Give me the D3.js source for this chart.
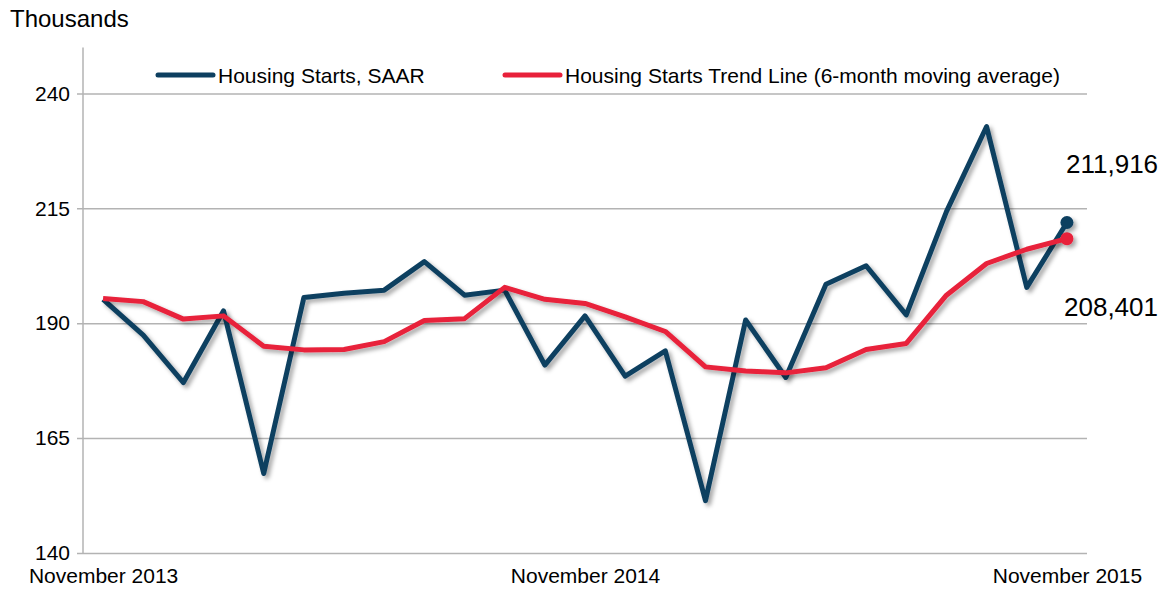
<!DOCTYPE html>
<html>
<head>
<meta charset="utf-8">
<script src="https://cdn.jsdelivr.net/npm/d3@7"></script>
<style>
  body { margin: 0; background: #fff; }
  svg { font-family: "Liberation Sans", Arial, sans-serif; }
</style>
</head>
<body>
<script>
// months from Nov 2013 to Nov 2015
var months = ["2013-11","2013-12","2014-01","2014-02","2014-03","2014-04","2014-05","2014-06",
  "2014-07","2014-08","2014-09","2014-10","2014-11","2014-12","2015-01","2015-02","2015-03",
  "2015-04","2015-05","2015-06","2015-07","2015-08","2015-09","2015-10","2015-11"];
var starts = [195.2, 187.4, 177.1, 192.7, 157.3, 195.6, 196.5, 197.2, 203.4, 196.1, 197.2, 180.9,
  191.6, 178.5, 184.0, 151.4, 190.7, 178.2, 198.5, 202.5, 191.8, 214.3, 232.8, 197.8, 211.916];
var trend = [195.4, 194.7, 190.9, 191.6, 185.0, 184.2, 184.3, 186.0, 190.6, 191.0, 197.8, 195.2,
  194.3, 191.4, 188.2, 180.5, 179.6, 179.2, 180.3, 184.3, 185.6, 196.1, 203.0, 206.1, 208.401];
var yTicks = [140, 165, 190, 215, 240];
var xTickMonths = ["2013-11", "2014-11", "2015-11"];
var xTickLabels = ["November 2013", "November 2014", "November 2015"];
var seriesNames = ["Housing Starts, SAAR", "Housing Starts Trend Line (6-month moving average)"];
var endLabels = ["211,916", "208,401"];

function drawChart() {
  var w = 1172, h = 592;
  var left = 83, right = 1087, top = 47.5, bottom = 553;
  var blue = "#0d3f60", red = "#e8203a";

  var svg = d3.select("body").append("svg")
    .attr("width", w)
    .attr("height", h);

  var defs = svg.append("defs");
  defs.append("filter")
    .attr("id", "shadow")
    .attr("x", "-10%").attr("y", "-10%")
    .attr("width", "120%").attr("height", "120%")
    .append("feDropShadow")
    .attr("dx", 3).attr("dy", 3)
    .attr("stdDeviation", 2)
    .attr("flood-color", "#000")
    .attr("flood-opacity", 0.35);

  var x = d3.scalePoint()
    .domain(months)
    .range([left, right])
    .padding(0.5);

  var y = d3.scaleLinear()
    .domain([140, 250])
    .range([bottom, top]);

  // gridlines + y labels
  var yAxis = d3.axisLeft(y)
    .tickValues(yTicks)
    .tickSize(-(right - left + 6))
    .tickPadding(13);
  var gy = svg.append("g")
    .attr("transform", "translate(" + left + ",0)")
    .call(yAxis);
  gy.select(".domain").remove();
  gy.selectAll(".tick line")
    .attr("x1", -6)
    .attr("x2", right - left)
    .attr("stroke", "#b3b3b3")
    .attr("stroke-width", 1.5);
  gy.selectAll(".tick text")
    .attr("font-size", "21px")
    .attr("font-family", "Liberation Sans, Arial, sans-serif")
    .attr("fill", "#000");

  // vertical axis line
  svg.append("line")
    .attr("x1", left).attr("x2", left)
    .attr("y1", top).attr("y2", bottom)
    .attr("stroke", "#b3b3b3")
    .attr("stroke-width", 1.5);

  // x labels
  var xAxis = d3.axisBottom(x)
    .tickValues(xTickMonths)
    .tickSize(0)
    .tickPadding(15)
    .tickFormat(function(d) { return xTickLabels[xTickMonths.indexOf(d)]; });
  var gx = svg.append("g")
    .attr("transform", "translate(0," + bottom + ")")
    .call(xAxis);
  gx.select(".domain").remove();
  gx.selectAll(".tick text")
    .attr("font-size", "21px")
    .attr("font-family", "Liberation Sans, Arial, sans-serif")
    .attr("fill", "#000");

  // Y title
  svg.append("text")
    .attr("x", 10)
    .attr("y", 27)
    .attr("font-size", "24px")
    .text("Thousands");

  var line = d3.line()
    .x(function(d, i) { return x(months[i]); })
    .y(function(d) { return y(d); });

  var series = [
    { values: starts, color: blue },
    { values: trend, color: red }
  ];

  series.forEach(function(s) {
    var g = svg.append("g").attr("filter", "url(#shadow)");
    g.append("path")
      .datum(s.values)
      .attr("d", line)
      .attr("fill", "none")
      .attr("stroke", s.color)
      .attr("stroke-width", 5)
      .attr("stroke-linejoin", "round");
    g.append("circle")
      .attr("cx", x(months[months.length - 1]))
      .attr("cy", y(s.values[s.values.length - 1]))
      .attr("r", 6.5)
      .attr("fill", s.color);
  });

  // end value labels
  svg.append("text")
    .attr("x", 1066).attr("y", 173)
    .attr("font-size", "26px")
    .text(endLabels[0]);
  svg.append("text")
    .attr("x", 1064).attr("y", 316)
    .attr("font-size", "26px")
    .text(endLabels[1]);

  // legend
  var legendItems = [
    { name: seriesNames[0], color: blue, x: 158 },
    { name: seriesNames[1], color: red, x: 505 }
  ];
  var lg = svg.selectAll(".legend")
    .data(legendItems)
    .enter()
    .append("g")
    .attr("class", "legend")
    .attr("transform", function(d) { return "translate(" + d.x + ",75)"; });
  lg.append("line")
    .attr("x1", 0).attr("x2", 55)
    .attr("y1", 0).attr("y2", 0)
    .attr("stroke", function(d) { return d.color; })
    .attr("stroke-width", 5)
    .attr("stroke-linecap", "round");
  lg.append("text")
    .attr("x", 60)
    .attr("y", 7.5)
    .attr("font-size", "21px")
    .text(function(d) { return d.name; });
}

window.onload = function() {
  drawChart();
};
</script>
</body>
</html>
